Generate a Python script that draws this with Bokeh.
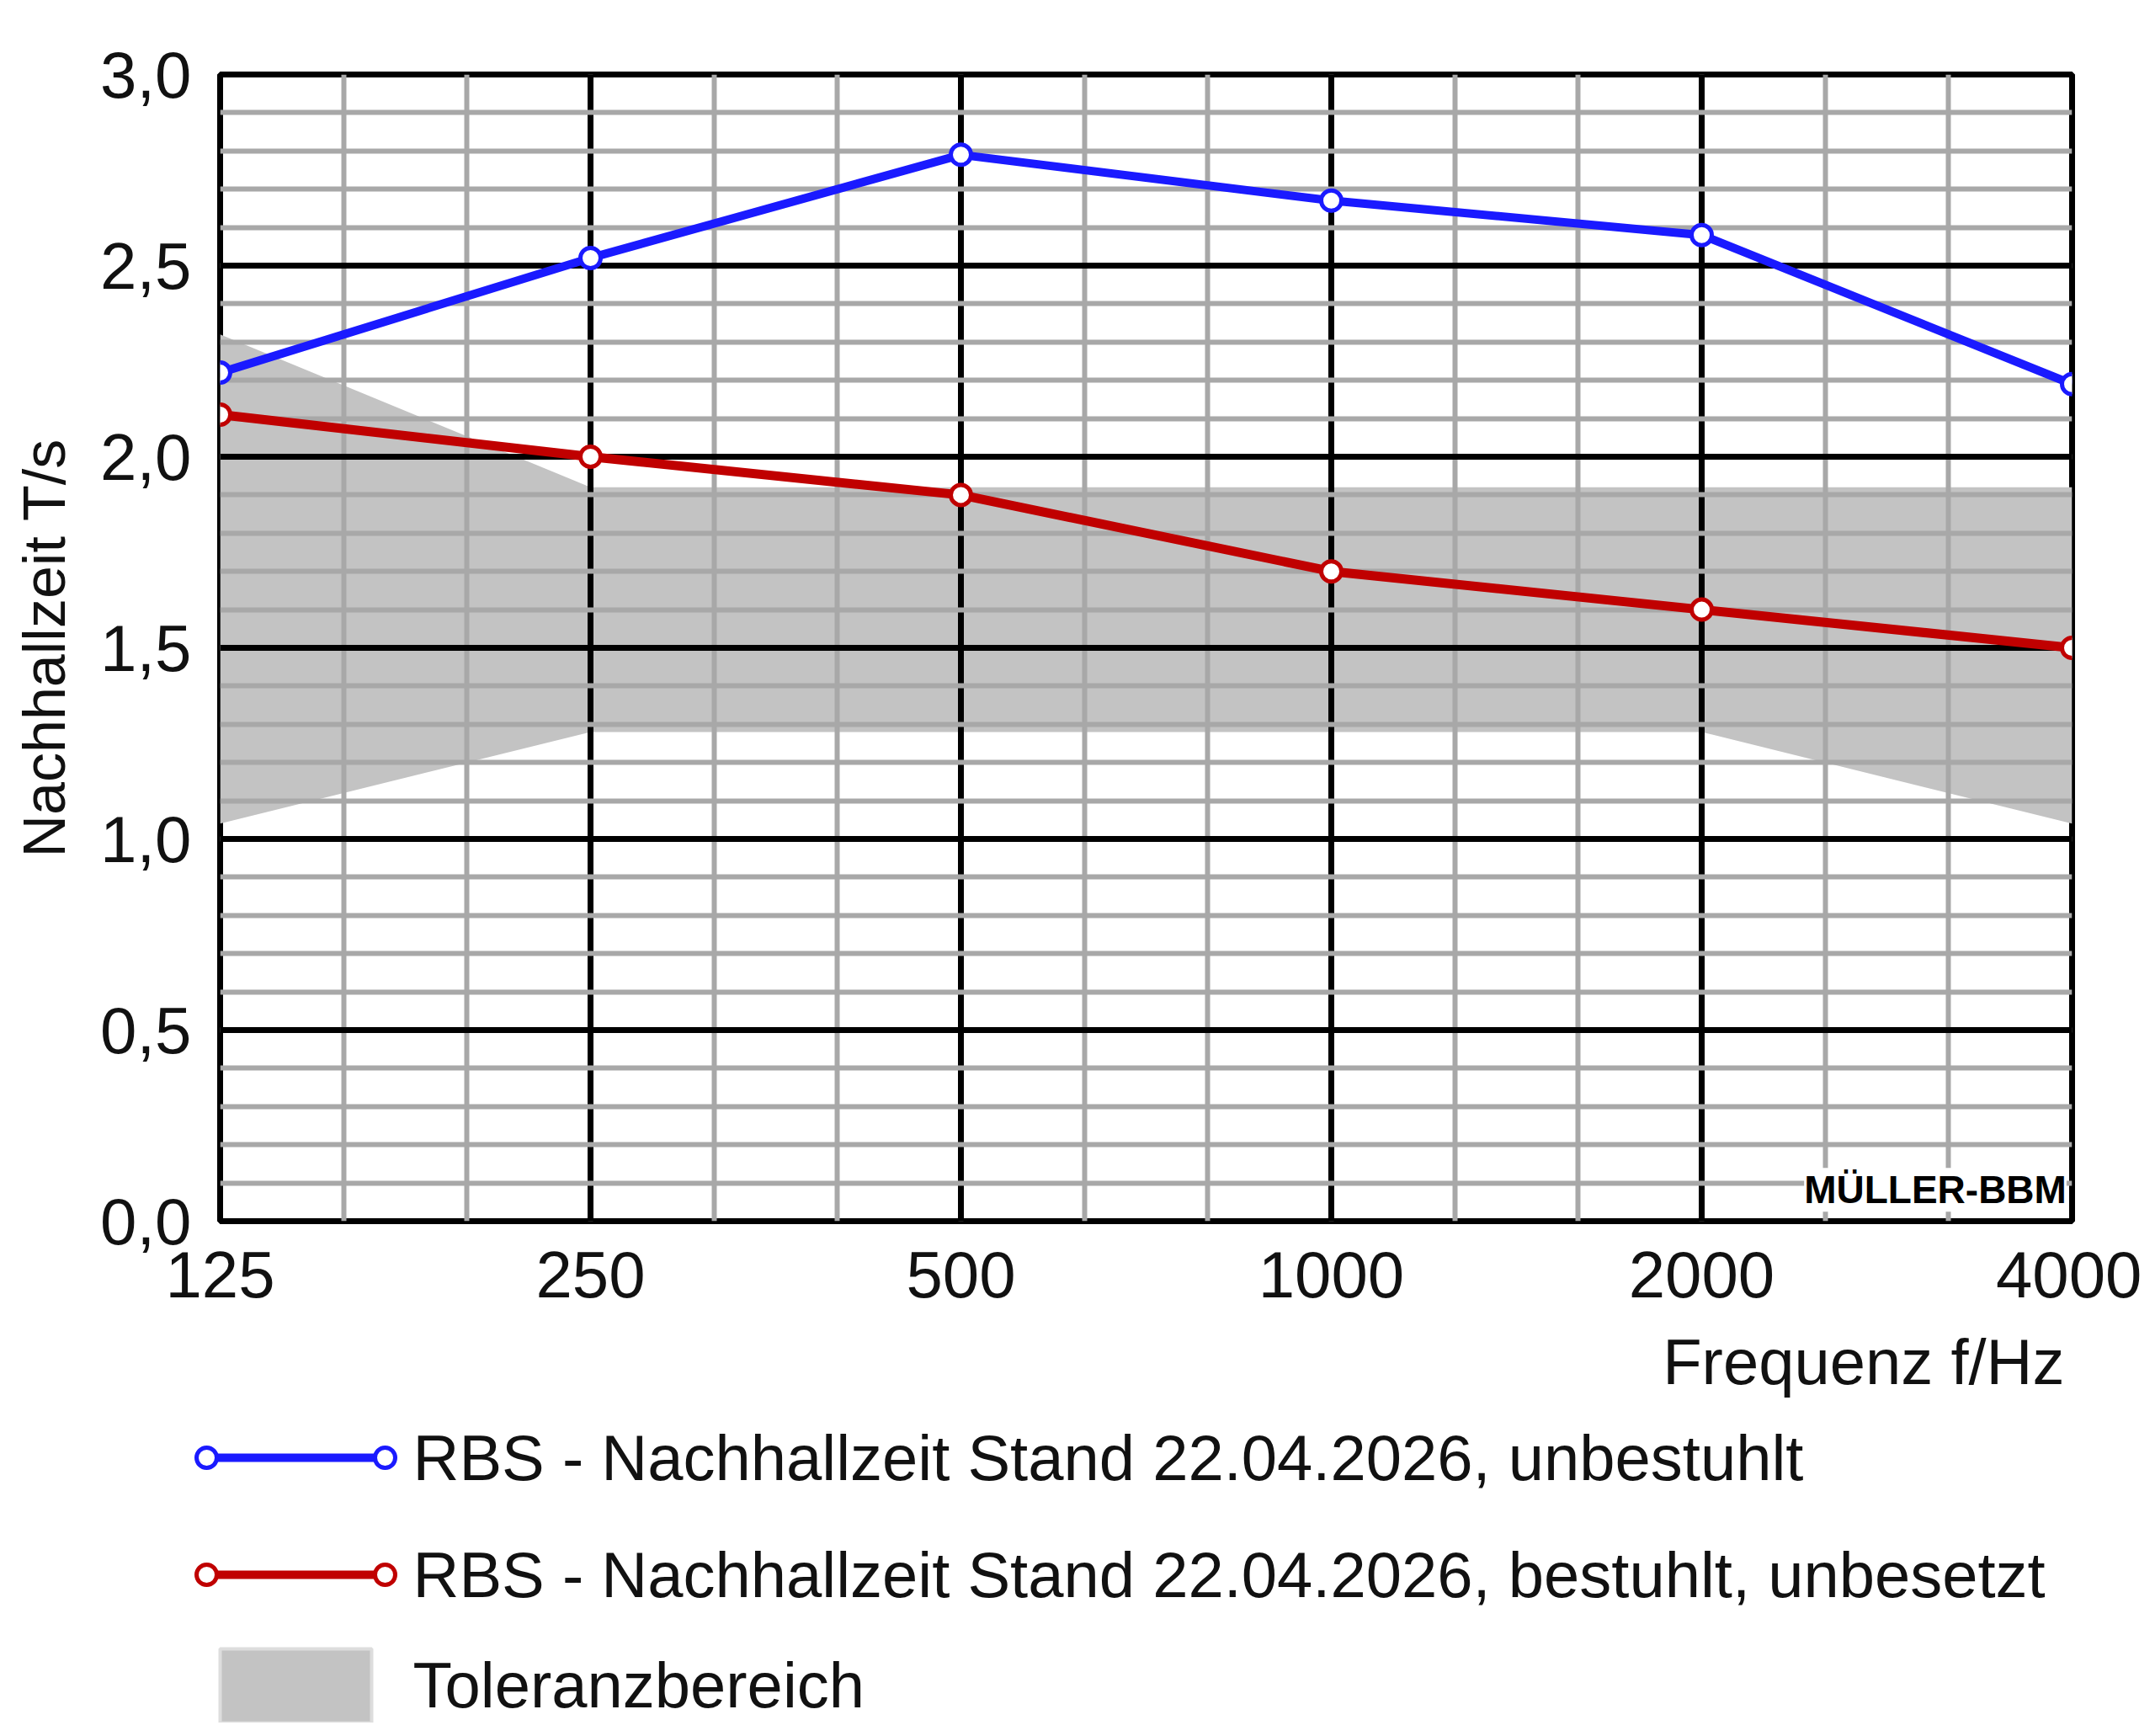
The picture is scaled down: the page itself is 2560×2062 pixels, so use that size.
import numpy as np
from bokeh.plotting import figure
from bokeh.models import Range1d, FixedTicker, Label
from bokeh.layouts import column, row
from bokeh.core.properties import value
from bokeh.embed import file_html
from bokeh.resources import INLINE

freqs = [125, 250, 500, 1000, 2000, 4000]
freq_labels = ["125", "250", "500", "1000", "2000", "4000"]
t_unbestuhlt = [2.22, 2.52, 2.79, 2.67, 2.58, 2.19]
t_bestuhlt = [2.11, 2.00, 1.90, 1.70, 1.60, 1.50]
tol_freqs = [125, 250, 2000, 4000]
tol_upper = [2.32, 1.92, 1.92, 1.92]
tol_lower = [1.04, 1.28, 1.28, 1.04]
y_ticks = [0.0, 0.5, 1.0, 1.5, 2.0, 2.5, 3.0]
y_labels = ["0,0", "0,5", "1,0", "1,5", "2,0", "2,5", "3,0"]
leg_labels = ["RBS - Nachhallzeit Stand 22.04.2026, unbestuhlt",
              "RBS - Nachhallzeit Stand 22.04.2026, bestuhlt, unbesetzt",
              "Toleranzbereich"]
BLUE = "#1a1aff"
RED = "#c00000"
GRAY = "#c3c3c3"
FONT = "Liberation Sans"
TXT = "#111111"

x = np.log2(np.array(freqs) / 125.0)
xt = np.log2(np.array(tol_freqs) / 125.0)

W, H = 2544, 1570
p = figure(width=W, height=H, output_backend="svg", toolbar_location=None,
           x_range=Range1d(0, 5), y_range=Range1d(0, 3),
           min_border_left=261, min_border_right=83, min_border_top=88, min_border_bottom=120)
p.outline_line_color = "black"
p.outline_line_width = 7
p.background_fill_color = "white"

band = p.varea(x=xt, y1=tol_lower, y2=tol_upper, fill_color=GRAY)
band.level = "image"

p.xaxis.ticker = FixedTicker(ticks=list(range(6)), minor_ticks=list(np.arange(0, 5.01, 1/3)))
p.xaxis.major_label_overrides = {i: l for i, l in enumerate(freq_labels)}
p.yaxis.ticker = FixedTicker(ticks=y_ticks, minor_ticks=list(np.round(np.arange(0, 3.01, 0.1), 2)))
p.yaxis.major_label_overrides = dict(zip(y_ticks, y_labels))
for ax in (p.xaxis, p.yaxis):
    ax.axis_line_color = None
    ax.major_tick_line_color = None
    ax.minor_tick_line_color = None
    ax.major_label_text_font = FONT
    ax.major_label_text_font_size = "78px"
    ax.major_label_text_color = TXT
p.xaxis.major_label_standoff = 30
p.yaxis.major_label_standoff = 28
p.yaxis.axis_label = "Nachhallzeit T/s"
p.yaxis.axis_label_text_font = FONT
p.yaxis.axis_label_text_font_style = "normal"
p.yaxis.axis_label_text_font_size = "70px"
p.yaxis.axis_label_text_color = TXT
p.yaxis.axis_label_standoff = 24
for g in (p.xgrid, p.ygrid):
    g.grid_line_color = "black"
    g.grid_line_width = 7
    g.minor_grid_line_color = "#a8a8a8"
    g.minor_grid_line_width = 6

p.line(x, t_unbestuhlt, line_color=BLUE, line_width=10)
p.scatter(x, t_unbestuhlt, size=24, fill_color="white", line_color=BLUE, line_width=5)
p.line(x, t_bestuhlt, line_color=RED, line_width=11)
p.scatter(x, t_bestuhlt, size=24, fill_color="white", line_color=RED, line_width=5)

p.add_layout(Label(x=4.985, y=0.025, text="MÜLLER-BBM", text_align="right", text_font=FONT,
                   text_font_style="bold", text_font_size="46px", background_fill_color="white",
                   text_color="black"))

# legend panel, coordinates = page pixels minus the 8px margin
LH = 2062 - 16 - H
q = figure(width=W, height=LH, output_backend="svg", toolbar_location=None,
           x_range=Range1d(0, W), y_range=Range1d(LH, 0), min_border=0,
           x_axis_location=None, y_axis_location=None)
q.grid.visible = False
q.outline_line_color = None
q.text(x=[2452], y=[47], text=["Frequenz f/Hz"], text_align="right", text_baseline="middle",
       text_font=value(FONT), text_font_size="76px", text_color=TXT)
rows = [161, 300, 431]
for yy, col in zip(rows[:2], [BLUE, RED]):
    q.line([245, 457], [yy, yy], line_color=col, line_width=10)
    q.scatter([245, 457], [yy, yy], size=24, fill_color="white", line_color=col, line_width=5)
q.quad(left=[261], right=[441], top=[388], bottom=[476], fill_color=GRAY, line_color="#dddddd", line_width=4)
q.text(x=[490] * 3, y=rows, text=leg_labels, text_baseline="middle", text_font=value(FONT),
       text_font_size="76px", text_color=TXT)

open("out.html", "w").write(file_html(column(row(p), row(q), spacing=0), INLINE))
